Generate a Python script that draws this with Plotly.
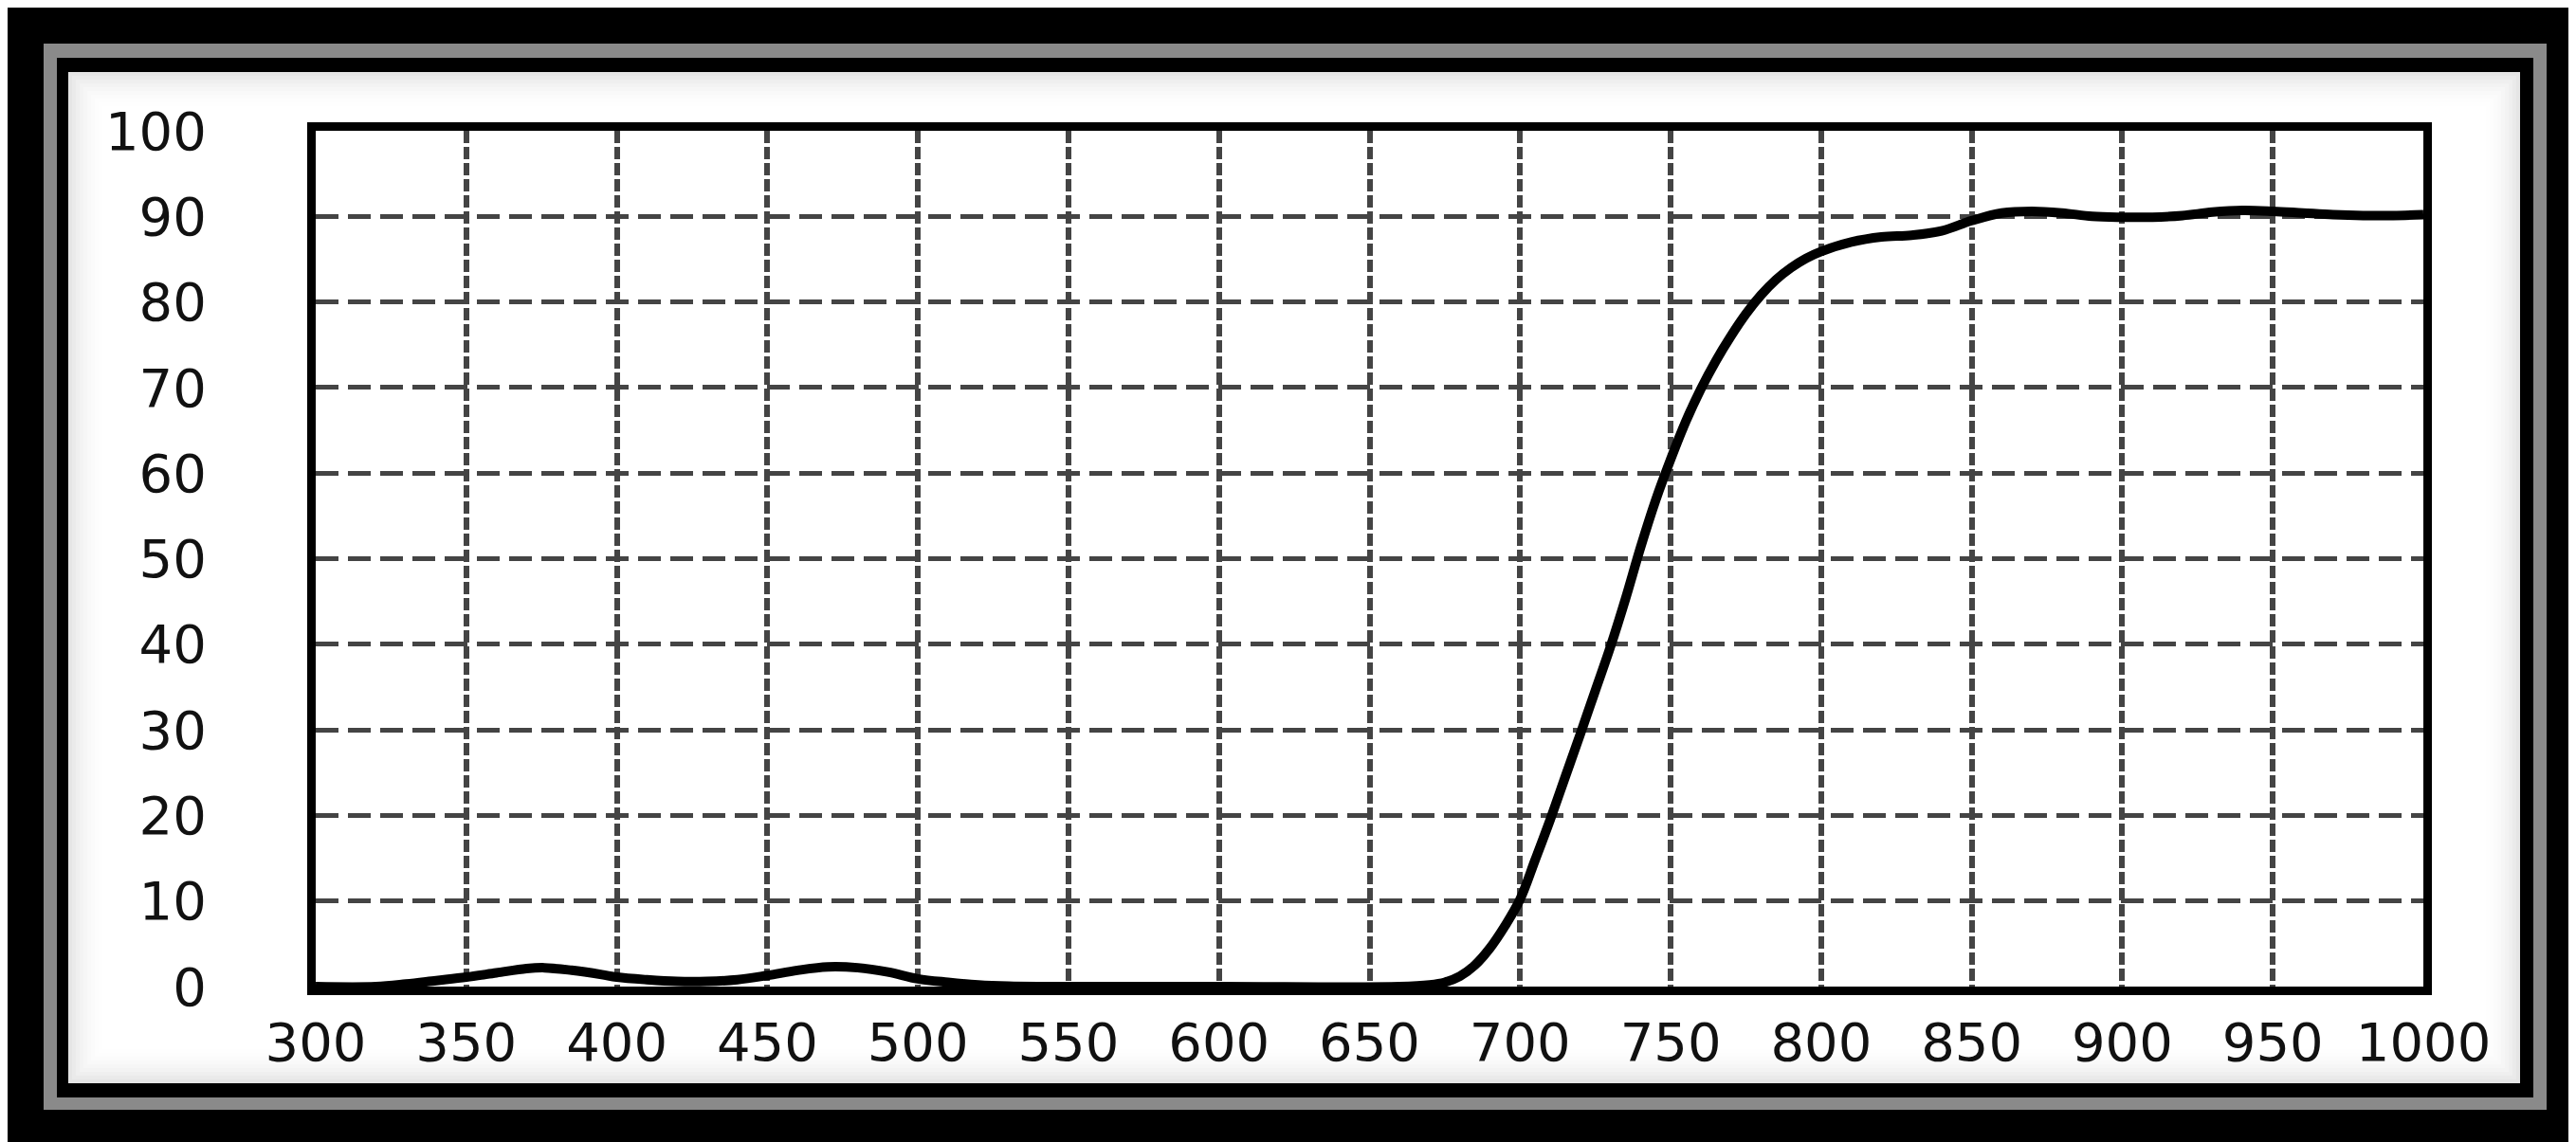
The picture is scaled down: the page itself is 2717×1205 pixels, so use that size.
"""Transmission curve of a long-pass filter, redrawn in a framed panel."""

import plotly.graph_objects as go

# wavelength (nm) and transmission (%)
WAVELENGTH = [
    300, 320, 330, 340, 350, 360, 370, 376, 385, 395, 400, 410, 420, 430,
    440, 450, 460, 470, 480, 490, 500, 510, 520, 530, 540, 600, 660, 670,
    675, 680, 685, 690, 695, 700, 705, 710, 715, 720, 725, 730, 735, 740,
    745, 750, 755, 760, 765, 770, 775, 780, 785, 790, 795, 800, 810, 820,
    830, 840, 850, 860, 870, 880, 890, 900, 910, 920, 930, 940, 950, 960,
    970, 980, 990, 1000,
]
TRANSMISSION = [
    0.0, 0.0, 0.3, 0.7, 1.1, 1.6, 2.1, 2.2, 1.9, 1.4, 1.1, 0.8, 0.6, 0.6,
    0.8, 1.3, 1.9, 2.3, 2.2, 1.7, 0.9, 0.5, 0.2, 0.05, 0.0, 0.0, 0.0, 0.2,
    0.5, 1.2, 2.5, 4.5, 7.1, 10.2, 14.8, 19.5, 24.5, 29.5, 34.6, 39.7, 45.3,
    51.3, 56.8, 61.6, 66.0, 69.8, 73.1, 76.0, 78.6, 80.8, 82.6, 84.0, 85.1,
    85.9, 87.0, 87.6, 87.8, 88.3, 89.5, 90.4, 90.6, 90.4, 90.0, 89.9, 89.9,
    90.1, 90.5, 90.7, 90.6, 90.4, 90.2, 90.1, 90.1, 90.2,
]

X_TICKS = list(range(300, 1001, 50))
Y_TICKS = list(range(0, 101, 10))

W, H = 2717, 1205
PLOT_L, PLOT_R, PLOT_T, PLOT_B = 325, 2548, 130, 1033

GRID = "#444444"
FONT = "DejaVu Sans"
TICK_SIZE = 56


def _px(x):
    return (x - PLOT_L) / (PLOT_R - PLOT_L)


def _py(y):
    return (PLOT_B - y) / (PLOT_B - PLOT_T)


def _rect(x0, y0, x1, y1, fill=None, line=None, width=0):
    return dict(
        type="rect",
        xref="paper",
        yref="paper",
        x0=_px(x0),
        x1=_px(x1),
        y0=_py(y1),
        y1=_py(y0),
        fillcolor=fill or "rgba(0,0,0,0)",
        line=dict(color=line or "rgba(0,0,0,0)", width=width),
        layer="below",
    )


shapes = [
    _rect(38, 38, 2678, 1163, fill="#8a8a8a"),
    _rect(52, 53, 2664, 1150, fill="#000000"),
    _rect(64, 68, 2650, 1135, fill="#ffffff"),
]
# soft shading along the inside of the white mat
for i in range(10):
    step = 4
    shapes.append(
        _rect(64 + step * i + 2, 68 + step * i + 2,
              2650 - step * i - 2, 1135 - step * i - 2,
              line=f"rgba(0,0,0,{0.10 * (1 - i / 10) ** 2:.3f})", width=step)
    )

fig = go.Figure()
fig.add_trace(
    go.Scatter(
        x=WAVELENGTH,
        y=TRANSMISSION,
        mode="lines",
        line=dict(color="#000000", width=10, shape="spline", smoothing=1.0),
        showlegend=False,
        hoverinfo="x+y",
    )
)

fig.update_layout(
    width=W,
    height=H,
    margin=dict(l=PLOT_L, r=W - PLOT_R, t=PLOT_T, b=H - PLOT_B),
    paper_bgcolor="#000000",
    plot_bgcolor="#ffffff",
    font=dict(family=FONT, size=TICK_SIZE, color="#111111"),
    shapes=shapes,
    xaxis=dict(
        range=[300, 1000],
        tickvals=X_TICKS,
        ticktext=[str(v) for v in X_TICKS],
        showgrid=True,
        gridcolor=GRID,
        gridwidth=6,
        griddash="13px,4px",
        zeroline=False,
        showline=True,
        mirror=True,
        linecolor="#000000",
        linewidth=9,
        ticks="",
        ticklabelstandoff=2,
        tickfont=dict(family=FONT, size=TICK_SIZE, color="#111111"),
    ),
    yaxis=dict(
        range=[0, 100],
        tickvals=Y_TICKS,
        ticktext=[str(v) for v in Y_TICKS],
        showgrid=True,
        gridcolor=GRID,
        gridwidth=5,
        griddash="24px,10px",
        zeroline=False,
        showline=True,
        mirror=True,
        linecolor="#000000",
        linewidth=9,
        ticks="",
        ticklabelstandoff=95,
        tickfont=dict(family=FONT, size=TICK_SIZE, color="#111111"),
    ),
)

fig.write_html("out.html")
